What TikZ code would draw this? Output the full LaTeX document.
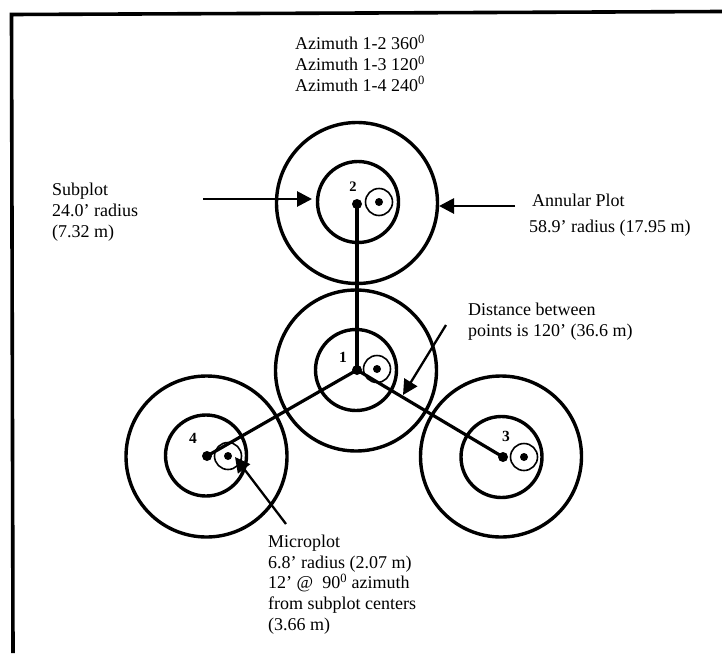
\documentclass[tikz,border=0pt]{standalone}
\usepackage{fontspec}
\setmainfont{Liberation Serif}
\usetikzlibrary{arrows.meta}
\tikzset{
  annular/.style={circle,draw,line width=3.4pt,minimum size=161pt,inner sep=0pt},
  subplotc/.style={circle,draw,line width=3.4pt,minimum size=81pt,inner sep=0pt},
  microc/.style={circle,draw,line width=1.6pt,minimum size=27pt,inner sep=0pt},
  centerdot/.style={circle,fill,minimum size=10pt,inner sep=0pt},
  microdot/.style={circle,fill,minimum size=8pt,inner sep=0pt},
  link/.style={line width=3.2pt},
  callout/.style={line width=2.8pt,-{Triangle[length=15pt,width=15pt]}},
  thincallout/.style={line width=2.3pt,-{Triangle[length=15pt,width=15pt]}},
  label/.style={anchor=base west,inner sep=0pt,align=left,font=\fontsize{18}{20.6}\selectfont},
  num/.style={inner sep=0pt,font=\fontsize{15.5}{16}\selectfont\bfseries},
  numsmall/.style={inner sep=0pt,font=\fontsize{14.5}{16}\selectfont\bfseries},
  frame/.style={line width=3.6pt}
}
\begin{document}
\begin{tikzpicture}[x=1pt,y=-1pt]
\useasboundingbox (0,0) rectangle (722,653);
\fill[white] (0,0) rectangle (722,653);
% frame
\coordinate (fa) at (722,11.5);
\coordinate (fb) at (11.5,14.5);
\coordinate (fc) at (13,653);
\draw[frame] (fa) -- (fb) -- (fc);
% plot 2
\node[annular] (out2) at (357,203) {};
\node[subplotc] (sub2) at (358,202) {};
\node[microc] (mic2) at (379,202) {};
\node[microdot] (mdot2) at (mic2) {};
\node[centerdot] (dot2) at (357,204) {};
% plot 1
\node[annular] (out1) at (356,370.5) {};
\node[subplotc] (sub1) at (356,370) {};
\node[microc] (mic1) at (377,369) {};
\node[microdot] (mdot1) at (mic1) {};
\node[centerdot] (dot1) at (357,370) {};
% plot 4
\node[annular] (out4) at (206.5,456.5) {};
\node[subplotc] (sub4) at (206,455.5) {};
\node[microc] (mic4) at (228,456) {};
\node[microdot] (mdot4) at (mic4) {};
\node[centerdot] (dot4) at (207,456) {};
% plot 3
\node[annular] (out3) at (501,456.5) {};
\node[subplotc] (sub3) at (501.5,457) {};
\node[microc] (mic3) at (524,457) {};
\node[microdot] (mdot3) at (mic3) {};
\node[centerdot] (dot3) at (503,457) {};
% links
\draw[link] (dot1.center) -- (dot2.center);
\draw[link] (dot1.center) -- (dot3.center);
\draw[link] (dot1.center) -- (dot4.center);
% numbers
\node[numsmall] (n2) at (353,187) {2};
\node[num] (n1) at (343,357) {1};
\node[num] (n4) at (193,438) {4};
\node[num] (n3) at (506,436) {3};
% labels
\node[label] (az) at (295,91) {Azimuth 1-2 360\textsuperscript{0}\\Azimuth 1-3 120\textsuperscript{0}\\Azimuth 1-4 240\textsuperscript{0}};
\node[label] (subl) at (52,237) {Subplot\\24.0’ radius\\(7.32 m)};
\node[label] (ann1) at (532,206) {Annular Plot};
\node[label] (ann2) at (529,232) {58.9’ radius (17.95 m)};
\node[label] (dist) at (468,336) {Distance between\\points is 120’ (36.6 m)};
\node[label] (micl) at (268,630) {Microplot\\6.8’ radius (2.07 m)\\12’ @\ \ 90\textsuperscript{0} azimuth\\from subplot centers\\(3.66 m)};
% callouts
\coordinate (s1) at (203,199);
\coordinate (s2) at (312,199);
\coordinate (a1) at (515,206);
\coordinate (a2) at (439,206);
\coordinate (d1) at (446,325);
\coordinate (d2) at (403,395);
\coordinate (m1) at (286,524);
\coordinate (m2) at (235,457);
\draw[callout] (s1) -- (s2);
\draw[callout] (a1) -- (a2);
\draw[thincallout] (d1) -- (d2);
\draw[thincallout] (m1) -- (m2);
\end{tikzpicture}
\end{document}
